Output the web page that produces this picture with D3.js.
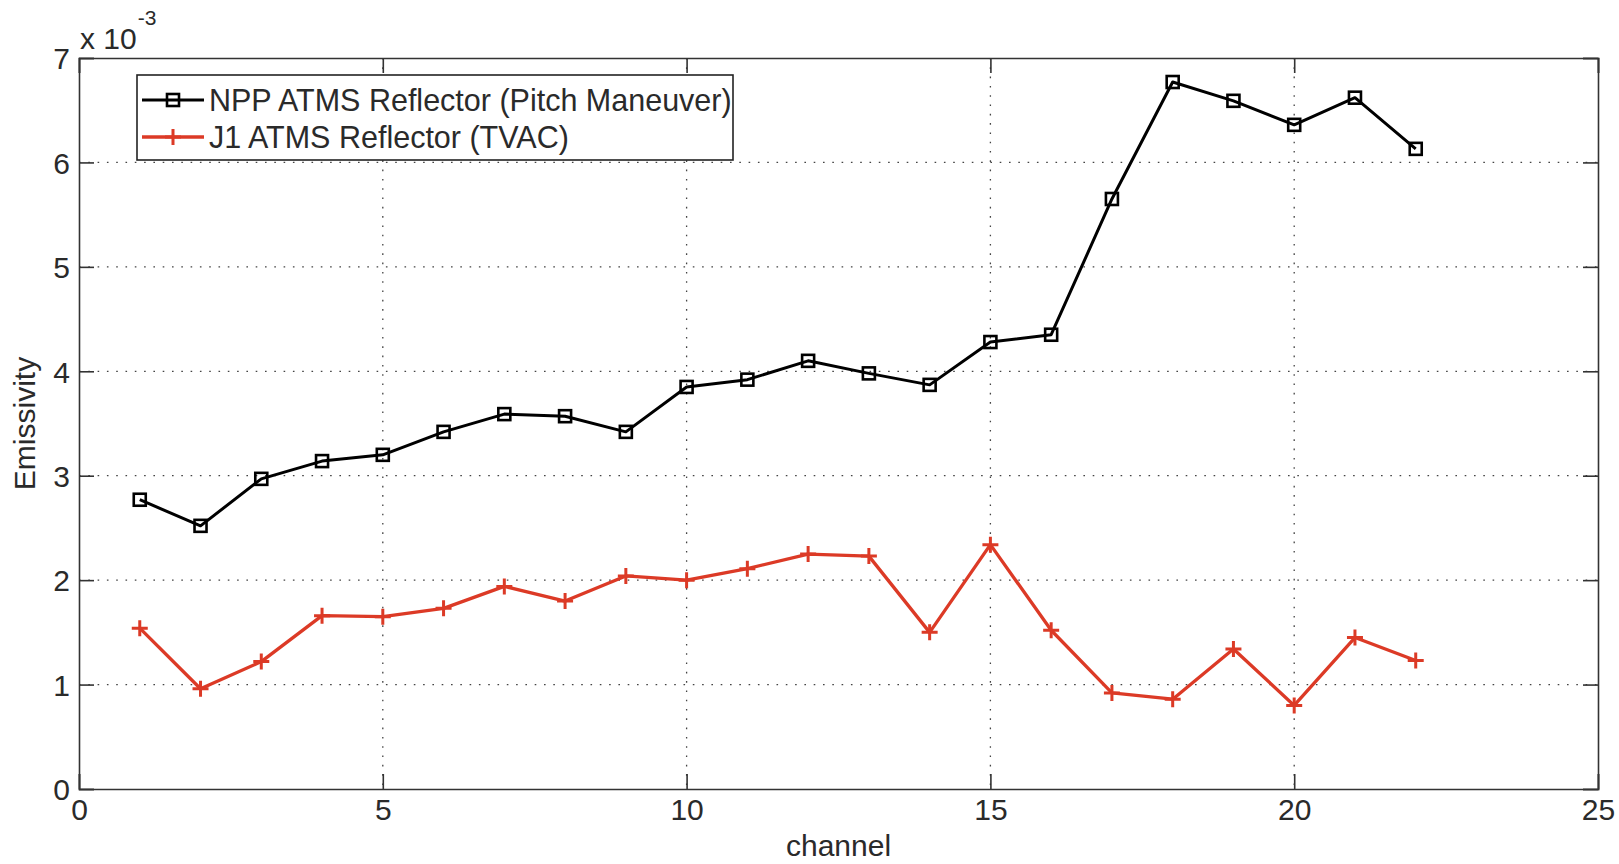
<!DOCTYPE html>
<html>
<head>
<meta charset="utf-8">
<script src="https://cdn.jsdelivr.net/npm/d3@7"></script>
<style>
  html, body { margin: 0; padding: 0; background: #fff; }
  svg { display: block; font-family: "Liberation Sans", Arial, Helvetica, sans-serif; }
</style>
</head>
<body>
<svg id="chart" width="1619" height="864"></svg>
<script>
// Channel numbers
const channels = [1, 2, 3, 4, 5, 6, 7, 8, 9, 10, 11, 12, 13, 14, 15, 16, 17, 18, 19, 20, 21, 22];

// Reflector emissivity, in units of 1e-3
const nppPitch = [2.77, 2.52, 2.97, 3.14, 3.20, 3.42, 3.59, 3.57, 3.42, 3.85, 3.92, 4.10,
                  3.98, 3.87, 4.28, 4.35, 5.65, 6.77, 6.59, 6.36, 6.62, 6.13];
const j1Tvac   = [1.54, 0.96, 1.22, 1.66, 1.65, 1.73, 1.94, 1.80, 2.04, 2.00, 2.11, 2.25,
                  2.23, 1.50, 2.34, 1.52, 0.92, 0.86, 1.34, 0.80, 1.45, 1.23];

const seriesNames = ["NPP ATMS Reflector (Pitch Maneuver)", "J1 ATMS Reflector (TVAC)"];
const xTicks = [0, 5, 10, 15, 20, 25];
const yTicks = [0, 1, 2, 3, 4, 5, 6, 7];

const svg = d3.select("#chart");
const plot = { left: 79, right: 1598, top: 58, bottom: 789 };

const x = d3.scaleLinear().domain([0, 25]).range([plot.left, plot.right]);
const y = d3.scaleLinear().domain([0, 7]).range([plot.bottom, plot.top]);

const ink = "#2a2a2a";
const red = "#dc3a26";
const fontSize = 30;
const tickLen = 15;

// Dotted grid
const grid = svg.append("g");
grid.selectAll("line.gx").data(xTicks.filter(d => d > 0 && d < 25)).join("line")
  .attr("x1", d => x(d)).attr("x2", d => x(d))
  .attr("y1", plot.top).attr("y2", plot.bottom)
  .attr("stroke", "#444").attr("stroke-width", 1.3)
  .attr("stroke-dasharray", "1.6,7.7");
grid.selectAll("line.gy").data(yTicks.filter(d => d > 0 && d < 7)).join("line")
  .attr("x1", plot.left).attr("x2", plot.right)
  .attr("y1", d => y(d)).attr("y2", d => y(d))
  .attr("stroke", "#444").attr("stroke-width", 1.3)
  .attr("stroke-dasharray", "1.6,7.7");

// Axes: ticks point inwards, mirrored on top and right
const bottomAxis = d3.axisBottom(x).tickValues(xTicks).tickSize(-tickLen).tickFormat(d3.format("d"));
const topAxis = d3.axisTop(x).tickValues(xTicks).tickSize(-tickLen).tickFormat("");
const leftAxis = d3.axisLeft(y).tickValues(yTicks).tickSize(-tickLen).tickFormat(d3.format("d"));
const rightAxis = d3.axisRight(y).tickValues(yTicks).tickSize(-tickLen).tickFormat("");

function styleAxis(g) {
  g.select(".domain").attr("stroke", "#333").attr("stroke-width", 1.6);
  g.selectAll(".tick line").attr("stroke", "#333").attr("stroke-width", 1.6);
  g.selectAll(".tick text").attr("fill", ink).attr("font-size", fontSize)
    .attr("font-family", "'Liberation Sans', Arial, sans-serif");
}

const gB = svg.append("g").attr("transform", `translate(0,${plot.bottom})`).call(bottomAxis).call(styleAxis);
gB.selectAll(".tick text").attr("y", 10).attr("dy", "0.71em");
const gT = svg.append("g").attr("transform", `translate(0,${plot.top})`).call(topAxis).call(styleAxis);
const gL = svg.append("g").attr("transform", `translate(${plot.left},0)`).call(leftAxis).call(styleAxis);
gL.selectAll(".tick text").attr("x", -9).attr("dy", "0.36em");
const gR = svg.append("g").attr("transform", `translate(${plot.right},0)`).call(rightAxis).call(styleAxis);
svg.selectAll(".domain").attr("fill", "none");

// Exponent label above the y axis
const expo = svg.append("text").attr("x", x(0) + 1).attr("y", 49)
  .attr("fill", ink).attr("font-size", 30);
expo.append("tspan").text("x 10");
expo.append("tspan").attr("font-size", 21).attr("dy", -24).attr("dx", 1).text("-3");

// Axis titles
svg.append("text").attr("x", (plot.left + plot.right) / 2).attr("y", 856)
  .attr("text-anchor", "middle").attr("fill", ink).attr("font-size", fontSize).text("channel");
svg.append("text").attr("transform", `translate(35,${(plot.top + plot.bottom) / 2}) rotate(-90)`)
  .attr("text-anchor", "middle").attr("fill", ink).attr("font-size", fontSize).text("Emissivity");

// Series
const line = d3.line().x((d, i) => x(channels[i])).y(d => y(d));

svg.append("path").datum(nppPitch).attr("d", line)
  .attr("fill", "none").attr("stroke", "#000").attr("stroke-width", 3)
  .attr("stroke-linejoin", "round");
svg.append("path").datum(j1Tvac).attr("d", line)
  .attr("fill", "none").attr("stroke", red).attr("stroke-width", 3.3)
  .attr("stroke-linejoin", "round");

const sq = 12;
svg.append("g").selectAll("rect").data(nppPitch).join("rect")
  .attr("x", (d, i) => x(channels[i]) - sq / 2).attr("y", d => y(d) - sq / 2)
  .attr("width", sq).attr("height", sq)
  .attr("fill", "none").attr("stroke", "#000").attr("stroke-width", 2.6);

const pl = 8;
const plus = svg.append("g").attr("stroke", red).attr("stroke-width", 3);
plus.selectAll("path").data(j1Tvac).join("path")
  .attr("d", (d, i) => {
    const cx = x(channels[i]), cy = y(d);
    return `M${cx - pl},${cy}H${cx + pl}M${cx},${cy - pl}V${cy + pl}`;
  });

// Legend
const leg = svg.append("g");
leg.append("rect").attr("x", 137).attr("y", 75).attr("width", 596).attr("height", 85)
  .attr("fill", "#fff").attr("stroke", "#222").attr("stroke-width", 1.6);
const rows = [
  { name: seriesNames[0], color: "#000", cy: 100, marker: "square" },
  { name: seriesNames[1], color: red, cy: 137, marker: "plus" }
];
rows.forEach(r => {
  leg.append("line").attr("x1", 142).attr("x2", 204).attr("y1", r.cy).attr("y2", r.cy)
    .attr("stroke", r.color).attr("stroke-width", r.marker === "plus" ? 3.3 : 3);
  if (r.marker === "square") {
    leg.append("rect").attr("x", 173 - sq / 2).attr("y", r.cy - sq / 2).attr("width", sq).attr("height", sq)
      .attr("fill", "none").attr("stroke", "#000").attr("stroke-width", 2.6);
  } else {
    leg.append("path").attr("d", `M${173 - pl},${r.cy}H${173 + pl}M173,${r.cy - pl}V${r.cy + pl}`)
      .attr("stroke", red).attr("stroke-width", 3);
  }
  leg.append("text").attr("x", 209).attr("y", r.cy).attr("dy", "0.36em")
    .attr("fill", ink).attr("font-size", 30.5).text(r.name);
});
</script>
</body>
</html>
